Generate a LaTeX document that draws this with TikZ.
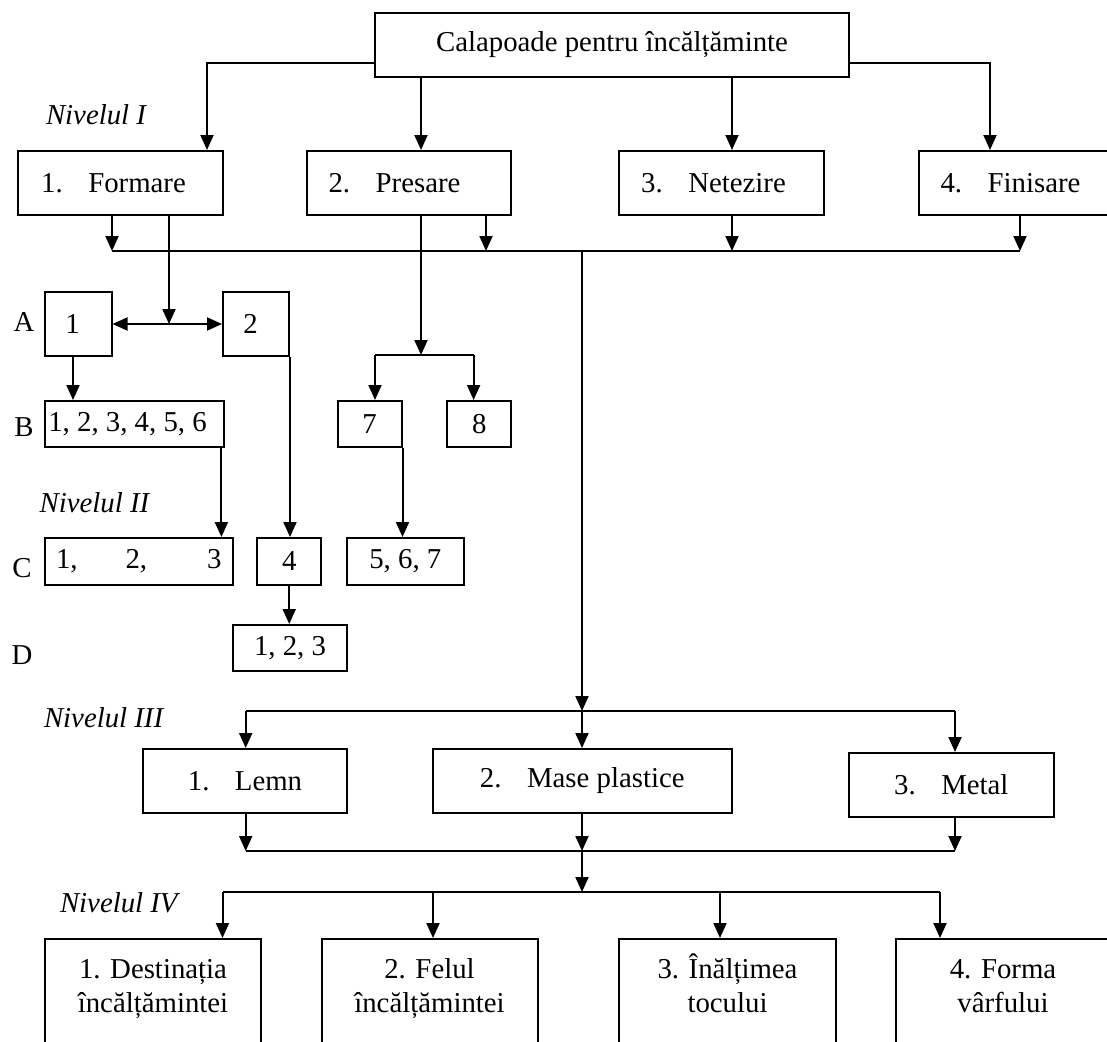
\documentclass[tikz,border=0pt]{standalone}
\usepackage{fontspec}
\setmainfont{Liberation Serif}
\usetikzlibrary{arrows.meta}
\newcommand{\txt}{\fontsize{28.8}{34}\selectfont}
\newcommand{\tabgap}{\hspace{25.5pt}}
\newcommand{\pad}[1]{\hspace{#1}\mbox{}}

\begin{document}
\begin{tikzpicture}[x=1pt, y=-1pt, line width=2pt, >={Triangle[width=13pt,length=15pt]},
    box/.style={draw, rectangle, inner sep=0pt, font=\txt},
    lbl/.style={inner sep=0pt, font=\txt},
    lvl/.style={inner sep=0pt, anchor=west, font=\txt\itshape},
    arr/.style={->},
    dbl/.style={<->}]
    \useasboundingbox (0,0) rectangle (1107,1041);
    \clip (0,0) rectangle (1107,1041);

    % Top
    \node[box, minimum width=474pt, minimum height=64pt] (top) at (612,45) {Calapoade pentru încălțăminte};

    % Level I
    \node[lvl] (lvlI) at (45,115) {Nivelul I};
    \node[box, minimum width=205pt, minimum height=64pt] (formare) at (120.5,183) {1.\tabgap Formare\pad{14pt}};
    \node[box, minimum width=204pt, minimum height=64pt] (presare) at (409,183) {2.\tabgap Presare\pad{29pt}};
    \node[box, minimum width=205pt, minimum height=64pt] (netezire) at (721.5,183) {3.\tabgap Netezire\pad{16pt}};
    \node[box, minimum width=204pt, minimum height=64pt] (finisare) at (1021,183) {4.\tabgap Finisare\pad{21pt}};

    % Level II
    \node[lbl] (labA) at (24,322) {A};
    \node[lbl] (labB) at (24,427) {B};
    \node[lbl] (labC) at (22,568) {C};
    \node[lbl] (labD) at (22,655) {D};
    \node[lvl] (lvlII) at (38.6,503) {Nivelul II};
    \node[box, minimum width=67pt, minimum height=64pt] (a1) at (78,324) {1\pad{11pt}};
    \node[box, minimum width=66pt, minimum height=64pt] (a2) at (256,324) {2\pad{11pt}};
    \node[box, minimum width=179pt, minimum height=46pt] (b1) at (134,424) {1, 2, 3, 4, 5, 6\pad{13pt}};
    \node[box, minimum width=64pt, minimum height=46pt] (b7) at (369.5,424) {7};
    \node[box, minimum width=64pt, minimum height=46pt] (b8) at (479.2,424) {8};
    \node[box, minimum width=188pt, minimum height=47pt] (c1) at (138.8,561.5) {1,\hspace{48pt}2,\hspace{60pt}3};
    \node[box, minimum width=64pt, minimum height=47pt] (c4) at (289.2,561.5) {4};
    \node[box, minimum width=117pt, minimum height=47pt] (c5) at (405.3,561.5) {5, 6, 7};
    \node[box, minimum width=114pt, minimum height=46pt] (d1) at (290,648) {1, 2, 3};

    % Level III
    \node[lvl] (lvlIII) at (43,718) {Nivelul III};
    \node[box, minimum width=204pt, minimum height=64pt] (lemn) at (245,781) {1.\tabgap Lemn};
    \node[box, minimum width=299pt, minimum height=64pt] (mase) at (582.3,781) {2.\tabgap Mase plastice};
    \node[box, minimum width=205pt, minimum height=64pt] (metal) at (951.3,785) {3.\tabgap Metal};

    % Level IV
    \node[lvl] (lvlIV) at (59,903) {Nivelul IV};
    \node[box, anchor=north, minimum width=216pt, minimum height=140pt] (dest) at (153,938) {};
    \node[box, anchor=north, minimum width=216pt, minimum height=140pt] (felul) at (429.5,938) {};
    \node[box, anchor=north, minimum width=217pt, minimum height=140pt] (inalt) at (727.5,938) {};
    \node[box, anchor=north, minimum width=215pt, minimum height=140pt] (forma) at (1003,938) {};
    \node[lbl, align=center, anchor=north] (destT) at ([yshift=-15pt]dest.north) {\vphantom{Î}1. Destinația\\încălțămintei};
    \node[lbl, align=center, anchor=north] (felulT) at ([yshift=-15pt]felul.north) {\vphantom{Î}2. Felul\\încălțămintei};
    \node[lbl, align=center, anchor=north] (inaltT) at ([yshift=-15pt]inalt.north) {\vphantom{Î}3. Înălțimea\\tocului};
    \node[lbl, align=center, anchor=north] (formaT) at ([yshift=-15pt]forma.north) {\vphantom{Î}4. Forma\\vârfului};

    % junctions
    \coordinate (jF) at (207,63);
    \coordinate (jN) at (990,63);
    \coordinate (xP) at (421,0);
    \coordinate (xT) at (732,0);
    \coordinate (busL) at (112,251);
    \coordinate (busP) at (486,251);
    \coordinate (busT) at (732,251);
    \coordinate (busR) at (1020,251);
    \coordinate (trunk) at (582,251);
    \coordinate (jA) at (169,324);
    \coordinate (xB) at (73,0);
    \coordinate (xC) at (221.4,0);
    \coordinate (jS) at (421,355);
    \coordinate (br7) at (375,355);
    \coordinate (br8) at (473.6,355);
    \coordinate (b3L) at (245.7,711);
    \coordinate (b3M) at (582,711);
    \coordinate (b3R) at (955,711);
    \coordinate (c3L) at (245.7,851);
    \coordinate (c3M) at (582,851);
    \coordinate (c3R) at (955,851);
    \coordinate (b4L) at (222.5,892);
    \coordinate (b4M) at (582,892);
    \coordinate (b4b) at (433,892);
    \coordinate (b4c) at (720,892);
    \coordinate (b4R) at (940,892);

    % top to level I
    \draw[arr] (top.west |- jF) -| (jF |- formare.north);
    \draw[arr] (top.south -| xP) -- (presare.north -| xP);
    \draw[arr] (top.south -| xT) -- (netezire.north -| xT);
    \draw[arr] (top.east |- jN) -| (jN |- finisare.north);

    % level I bus
    \draw (busL) -- (busR);
    \draw[arr] (formare.south -| busL) -- (busL);
    \draw[arr] (presare.south -| busP) -- (busP);
    \draw[arr] (netezire.south -| busT) -- (busT);
    \draw[arr] (finisare.south -| busR) -- (busR);

    % level II
    \draw[arr] (formare.south -| jA) -- (jA);
    \draw[dbl] (a1.east) -- (a2.west);
    \draw[arr] (a1.south -| xB) -- (b1.north -| xB);
    \draw[arr] (b1.south -| xC) -- (c1.north -| xC);
    \draw[arr] (a2.south east) -- (a2.south east |- c4.north);
    \draw[arr] (presare.south -| xP) -- (jS);
    \draw (br7) -- (br8);
    \draw[arr] (br7) -- (br7 |- b7.north);
    \draw[arr] (br8) -- (br8 |- b8.north);
    \draw[arr] (b7.south east) -- (b7.south east |- c5.north);
    \draw[arr] (c4.south) -- (c4.south |- d1.north);

    % level III
    \draw[arr] (trunk) -- (b3M);
    \draw (b3L) -- (b3R);
    \draw[arr] (b3L) -- (b3L |- lemn.north);
    \draw[arr] (b3M) -- (b3M |- mase.north);
    \draw[arr] (b3R) -- (b3R |- metal.north);
    \draw (c3L) -- (c3R);
    \draw[arr] (lemn.south -| c3L) -- (c3L);
    \draw[arr] (mase.south -| c3M) -- (c3M);
    \draw[arr] (metal.south -| c3R) -- (c3R);

    % level IV
    \draw[arr] (c3M) -- (b4M);
    \draw (b4L) -- (b4R);
    \draw[arr] (b4L) -- (b4L |- dest.north);
    \draw[arr] (b4b) -- (b4b |- felul.north);
    \draw[arr] (b4c) -- (b4c |- inalt.north);
    \draw[arr] (b4R) -- (b4R |- forma.north);
\end{tikzpicture}
\end{document}
